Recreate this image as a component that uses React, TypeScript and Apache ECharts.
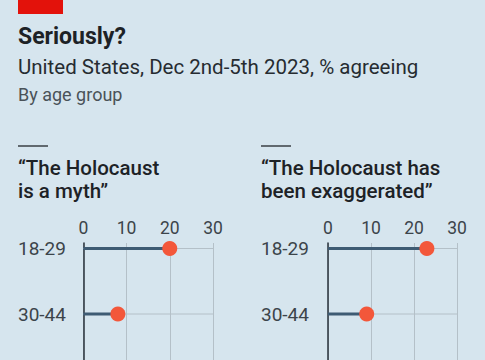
import React, { useEffect, useRef } from 'react';
import * as echarts from 'echarts';

const ageGroups = ['18-29', '30-44'];
const mythValues = [20, 8];
const exaggeratedValues = [23, 9];
const xMin = 0;
const xMax = 30;
const xInterval = 10;
const panelTitles = ['“The Holocaust\nis a myth”', '“The Holocaust has\nbeen exaggerated”'];
const titleText = 'Seriously?';
const subtitleText = 'United States, Dec 2nd-5th 2023, % agreeing';
const noteText = 'By age group';

const FONT = 'Roboto, "Noto Sans", sans-serif';
const BG = '#d6e5ee';
const GRID = '#b4c0c8';
const STEM = '#3e5b73';
const DOT = '#f3573a';
const TEXT = '#1d2226';
const SOFT = '#3c444a';

export default function App() {
  const ref = useRef<HTMLDivElement>(null);
  useEffect(() => {
    if (!ref.current) return;
    const chart = echarts.init(ref.current, null, { renderer: 'svg' });
    const panels = [
      { left: 83.3, width: 129.7, values: mythValues, titleX: 18, labelMargin: 65.3, title: panelTitles[0] },
      { left: 328, width: 129, values: exaggeratedValues, titleX: 261, labelMargin: 67, title: panelTitles[1] },
    ];
    const option: any = {
      animation: false,
      backgroundColor: BG,
      grid: panels.map((p) => ({ left: p.left, width: p.width, top: 243, bottom: 0 })),
      xAxis: panels.map((_, i) => ({
        type: 'value',
        gridIndex: i,
        min: xMin,
        max: xMax,
        interval: xInterval,
        position: 'top',
        axisLine: { show: false },
        axisTick: { show: false },
        axisLabel: { color: SOFT, fontSize: 17.5, fontFamily: FONT, margin: 6 },
        splitLine: { show: true, lineStyle: { color: GRID, width: 1 } },
      })),
      yAxis: panels.map((p, i) => ({
        type: 'value',
        gridIndex: i,
        inverse: true,
        min: -0.084,
        max: 1.702,
        splitNumber: 2,
        minInterval: 1,
        axisLine: { show: true, onZero: false, lineStyle: { color: '#27313a', width: 1.5 } },
        axisTick: { show: false },
        splitLine: { show: false },
        axisLabel: {
          color: SOFT,
          fontSize: 19,
          fontFamily: FONT,
          align: 'left',
          margin: p.labelMargin,
          showMinLabel: true,
          showMaxLabel: true,
          formatter: (v: number) => {
            const r = Math.round(v);
            return Math.abs(v - r) < 1e-6 && ageGroups[r] !== undefined ? ageGroups[r] : '';
          },
        },
      })),
      series: panels.flatMap((p, i) => [
        {
          type: 'custom',
          xAxisIndex: i,
          yAxisIndex: i,
          silent: true,
          data: p.values.map((v, idx) => [v, idx]),
          encode: { x: 0, y: 1 },
          renderItem: (_params: any, api: any) => {
            const v = api.value(0);
            const idx = api.value(1);
            const s = api.coord([xMin, idx]);
            const e = api.coord([v, idx]);
            const f = api.coord([xMax, idx]);
            return {
              type: 'group',
              children: [
                { type: 'line', shape: { x1: s[0], y1: s[1], x2: f[0], y2: f[1] }, style: { stroke: GRID, lineWidth: 1 } },
                { type: 'line', shape: { x1: s[0], y1: s[1], x2: e[0], y2: e[1] }, style: { stroke: STEM, lineWidth: 3 } },
              ],
            };
          },
          z: 2,
        },
        {
          type: 'scatter',
          xAxisIndex: i,
          yAxisIndex: i,
          symbolSize: 15,
          itemStyle: { color: DOT, opacity: 1 },
          data: p.values.map((v, idx) => [v, idx]),
          z: 3,
        },
      ]),
      graphic: [
        { type: 'rect', shape: { x: 18, y: 0, width: 45, height: 14 }, style: { fill: '#e3120b' } },
        {
          type: 'text', x: 18, y: 36,
          style: { text: titleText, fontFamily: FONT, fontWeight: 'bold', fontSize: 23, fill: TEXT, verticalAlign: 'middle' },
        },
        {
          type: 'text', x: 18, y: 67,
          style: { text: subtitleText, fontFamily: FONT, fontSize: 20.5, fill: '#262c31', verticalAlign: 'middle' },
        },
        {
          type: 'text', x: 18, y: 94.7,
          style: { text: noteText, fontFamily: FONT, fontSize: 18, fill: '#4a5258', verticalAlign: 'middle' },
        },
        ...panels.flatMap((p) => [
          { type: 'line', shape: { x1: p.titleX, y1: 146, x2: p.titleX + 30, y2: 146 }, style: { stroke: '#3a3f44', lineWidth: 1.5 } },
          {
            type: 'text', x: p.titleX, y: 179.5,
            style: { text: p.title, fontFamily: FONT, fontWeight: 500, fontSize: 20.5, lineHeight: 23, fill: TEXT, verticalAlign: 'middle' },
          },
        ]),
      ],
    };
    chart.setOption(option);
    return () => chart.dispose();
  }, []);
  return (
    <div
      ref={ref}
      style={{ position: 'fixed', left: 0, top: 0, width: 485, height: 360, background: BG }}
    />
  );
}
